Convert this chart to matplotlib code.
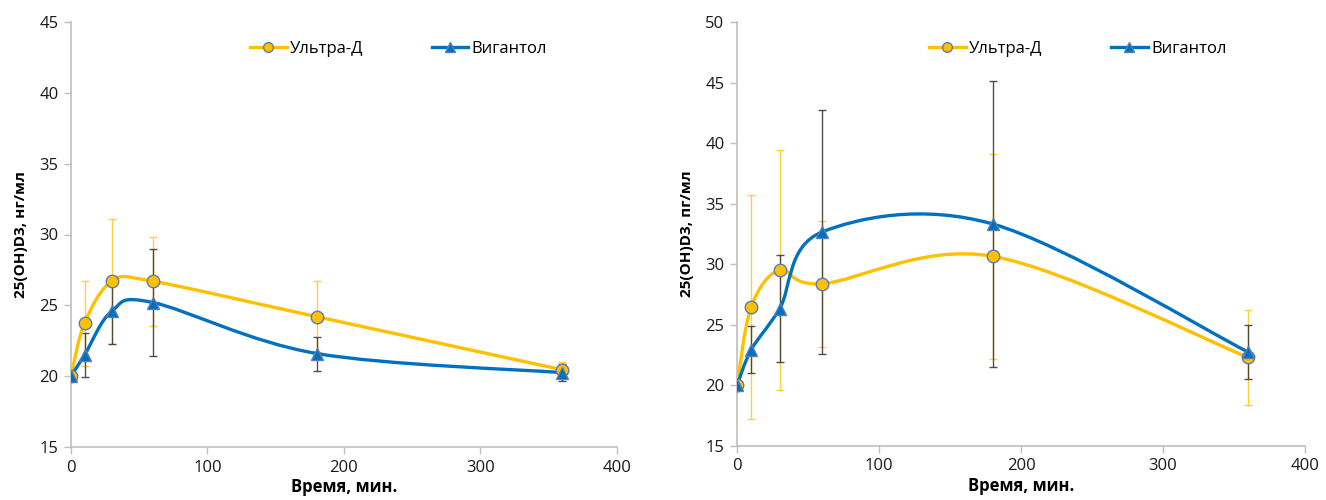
"""Concentration of 25(OH)D3 over time: Ultra-D vs Vigantol (two panels)."""

import matplotlib

matplotlib.use("Agg")
import matplotlib.pyplot as plt
import numpy as np
from matplotlib.path import Path
from matplotlib.patches import PathPatch

plt.rcParams["font.family"] = ["Open Sans", "DejaVu Sans"]

# time points, min
time_min = [0, 10, 30, 60, 180, 360]

# left panel, нг/мл
ultra_left = [20.0, 23.75, 26.7, 26.7, 24.2, 20.45]
ultra_left_err = [0.0, 3.0, 4.4, 3.15, 2.5, 0.55]
vig_left = [20.0, 21.5, 24.6, 25.2, 21.6, 20.25]
vig_left_err = [0.0, 1.55, 2.3, 3.8, 1.2, 0.6]

# right panel, пг/мл
ultra_right = [20.0, 26.47, 29.53, 28.4, 30.66, 22.31]
ultra_right_err = [0.0, 9.23, 9.9, 5.2, 8.45, 3.9]
vig_right = [20.0, 22.94, 26.33, 32.67, 33.33, 22.75]
vig_right_err = [0.0, 1.95, 4.4, 10.1, 11.8, 2.2]

series_names = ["Ультра-Д", "Вигантол"]
YELLOW = "#FFC000"
BLUE = "#0070C0"
EDGE = "#5A7FAF"
AXIS_GREY = "#BFBFBF"


def smooth_path(xs, ys):
    # Excel-like smoothed line: Catmull-Rom as cubic Bezier segments
    pts = np.column_stack([xs, ys]).astype(float)
    padded = np.vstack([pts[0], pts, pts[-1]])
    verts = [pts[0]]
    codes = [Path.MOVETO]
    for i in range(len(pts) - 1):
        p0, p1, p2, p3 = padded[i], padded[i + 1], padded[i + 2], padded[i + 3]
        verts += [p1 + (p2 - p0) / 6, p2 - (p3 - p1) / 6, p2]
        codes += [Path.CURVE4] * 3
    return Path(verts, codes)


def draw_series(ax, ys, err, color, marker, bar_color, bar_alpha):
    ax.errorbar(time_min, ys, yerr=err, fmt="none", ecolor=bar_color,
                alpha=bar_alpha, elinewidth=1.0, capsize=3, capthick=1.0, zorder=2)
    ax.add_patch(PathPatch(smooth_path(time_min, ys), facecolor="none",
                           edgecolor=color, lw=2.4, zorder=3))
    ax.plot(time_min, ys, linestyle="none", marker=marker, markersize=9,
            markerfacecolor=color, markeredgecolor=EDGE,
            markeredgewidth=1.0, zorder=4)


def style_axes(ax, ymax, ylabel):
    ax.set_xlim(0, 400)
    ax.set_ylim(15, ymax)
    ax.set_xticks(range(0, 401, 100))
    ax.set_yticks(range(15, ymax + 1, 5))
    for side in ("top", "right"):
        ax.spines[side].set_visible(False)
    for side in ("left", "bottom"):
        ax.spines[side].set_color(AXIS_GREY)
        ax.spines[side].set_linewidth(1.2)
    ax.tick_params(direction="out", length=5, width=1.0, color=AXIS_GREY,
                   labelsize=12, labelcolor="#1a1a1a", pad=4)
    ax.set_xlabel("Время, мин.", fontsize=12, fontweight="bold", labelpad=2)
    ax.set_ylabel(ylabel, fontsize=11, fontweight="bold", labelpad=8)

    # legend entries with line + marker
    handles = [
        plt.Line2D([], [], color=YELLOW, lw=2.4, marker="o", markersize=7,
                   markerfacecolor=YELLOW, markeredgecolor=EDGE),
        plt.Line2D([], [], color=BLUE, lw=2.4, marker="^", markersize=7,
                   markerfacecolor=BLUE, markeredgecolor=EDGE),
    ]
    ax.legend(handles, series_names, loc="upper center", bbox_to_anchor=(0.6, 0.99),
              ncol=2, frameon=False, fontsize=12, columnspacing=4.1,
              handlelength=2.2, handletextpad=0.2)


fig = plt.figure(figsize=(13.26, 5.0), dpi=100)
ax_left = fig.add_axes([0.0535, 0.106, 0.4118, 0.85])
ax_right = fig.add_axes([0.5558, 0.108, 0.4284, 0.848])

draw_series(ax_left, ultra_left, ultra_left_err, YELLOW, "o", YELLOW, 0.75)
draw_series(ax_left, vig_left, vig_left_err, BLUE, "^", "#333333", 0.85)
style_axes(ax_left, 45, "25(OH)D3, нг/мл")

draw_series(ax_right, ultra_right, ultra_right_err, YELLOW, "o", YELLOW, 0.75)
draw_series(ax_right, vig_right, vig_right_err, BLUE, "^", "#333333", 0.85)
style_axes(ax_right, 50, "25(OH)D3, пг/мл")

fig.savefig("out.png", dpi=100)
